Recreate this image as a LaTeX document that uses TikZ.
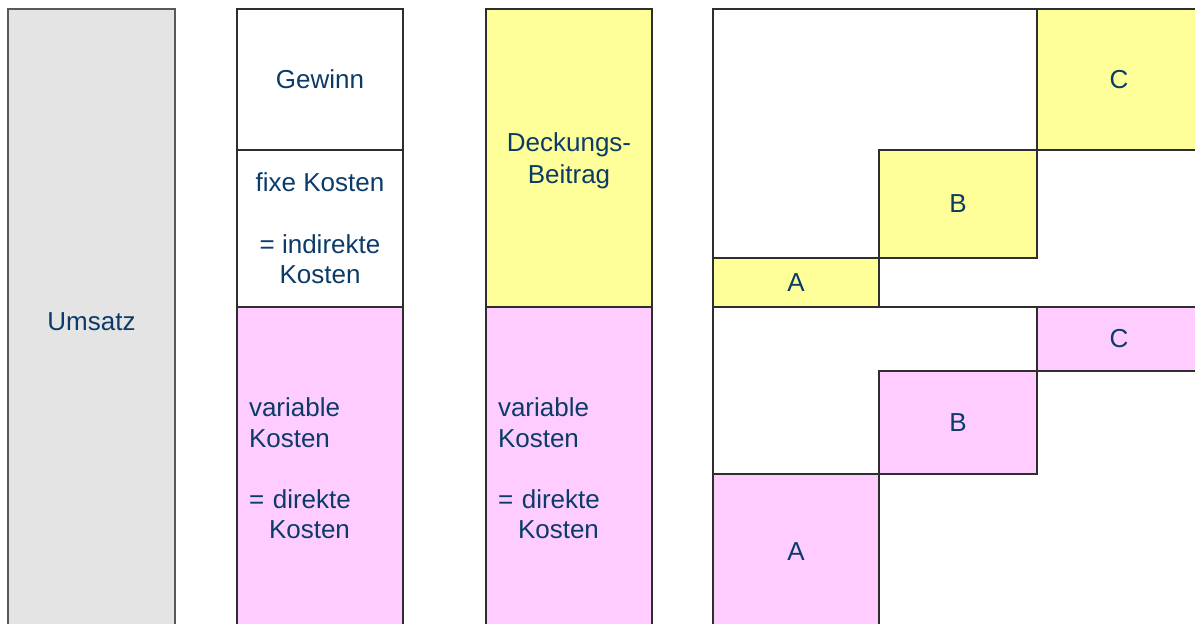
\documentclass[tikz,border=0pt]{standalone}
\usepackage{fontspec}
\setmainfont{Liberation Sans}
\definecolor{ink}{HTML}{0B3B68}
\definecolor{edge}{HTML}{2E2E2E}
\definecolor{greyedge}{HTML}{585858}
\definecolor{greyfill}{HTML}{E4E4E4}
\definecolor{yellowfill}{HTML}{FFFF99}
\definecolor{pinkfill}{HTML}{FFCCFF}
\begin{document}
\begin{tikzpicture}[x=1pt,y=-1pt,
  cell/.style 2 args={rectangle, draw=edge, line width=1.3pt, anchor=north west,
    inner sep=0pt, outer sep=0pt, minimum width=#1, minimum height=#2,
    text=ink, font=\fontsize{26}{30.5}\selectfont, align=center},
  leftcell/.style={align=left, text width=142pt},
  yellow/.style={fill=yellowfill},
  pink/.style={fill=pinkfill},
  celltext/.style={text=ink, font=\fontsize{26}{30.5}\selectfont, align=center, inner sep=0pt},
]
\useasboundingbox (0,0) rectangle (1195,624);
\clip (0,0) rectangle (1195,624);

% revenue column
\node[cell={167pt}{626pt}, draw=greyedge, line width=2pt, fill=greyfill] (umsatz) at (8,9) {Umsatz};

% cost breakdown column
\node[cell={166pt}{141pt}, fill=white] (gewinn) at (237,9) {Gewinn};
\node[cell={166pt}{157pt}, fill=white] (fix) at (237,150)
  {fixe Kosten\\[31pt]= indirekte\\Kosten};
\node[cell={166pt}{323pt}, pink, leftcell] (var1) at (237,307)
  {variable\\Kosten\\[30.5pt]= direkte\\\hspace*{20pt}Kosten};

% contribution margin column
\node[cell={166pt}{298pt}, yellow,
  label={[celltext, yshift=-3pt]center:{Deckungs-\\[1pt]Beitrag}}] (db) at (486,9) {};
\node[cell={166pt}{323pt}, pink, leftcell] (var2) at (486,307)
  {variable\\Kosten\\[30.5pt]= direkte\\\hspace*{20pt}Kosten};

% product staircase: frames
\node[cell={488pt}{298pt}] (yframe) at (713,9) {};
\node[cell={488pt}{323pt}] (pframe) at (713,307) {};

% contribution margin per product
\node[cell={164pt}{141pt}, yellow] (yc) at (1037,9) {C};
\node[cell={158pt}{108pt}, yellow] (yb) at (879,150) {B};
\node[cell={166pt}{49pt}, yellow] (ya) at (713,258) {A};

% variable costs per product
\node[cell={164pt}{64pt}, pink] (pc) at (1037,307) {C};
\node[cell={158pt}{103pt}, pink] (pb) at (879,371) {B};
\node[cell={166pt}{156pt}, pink] (pa) at (713,474) {A};
\end{tikzpicture}
\end{document}
